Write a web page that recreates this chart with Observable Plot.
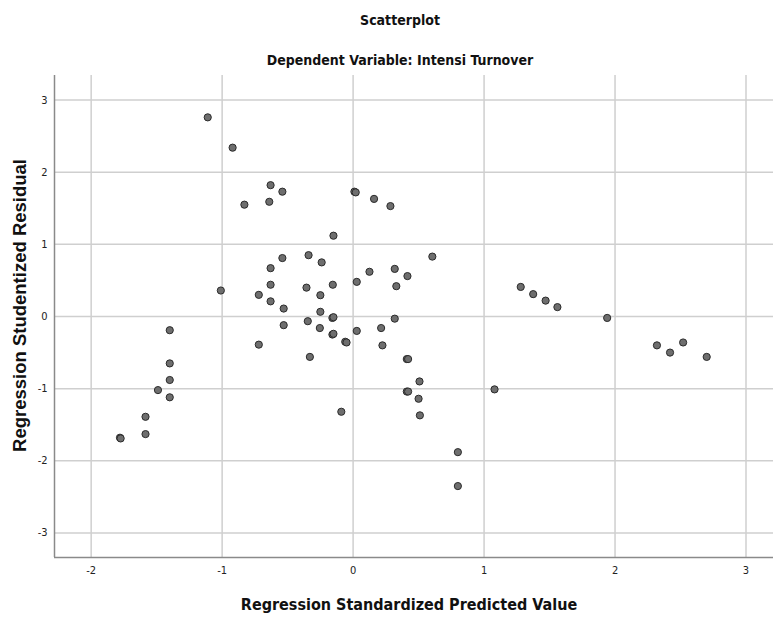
<!DOCTYPE html>
<html>
<head>
<meta charset="utf-8">
<script src="https://cdn.jsdelivr.net/npm/d3@7"></script>
<script src="https://cdn.jsdelivr.net/npm/@observablehq/plot@0.6"></script>
<style>
  html, body { margin: 0; padding: 0; background: #fff; }
  #chart { width: 773px; height: 621px; }
</style>
</head>
<body>
<div id="chart"></div>
<script>
// Regression Standardized Predicted Value (x) and Studentized Residual (y)
const predicted = [
  -1.11, -0.92, -0.63, -0.54, -0.83, -0.64, 0.01, 0.02, 0.16, 0.285,
  -0.15, 0.605, -0.54, -0.63, -0.34, -0.24, 0.125, 0.318, 0.415, 0.028,
  0.33, -1.01, -0.63, -0.72, -0.356, -0.155, -0.25, -0.63, -0.53, -0.25,
  -0.158, -0.15, -0.53, -0.346, -0.254, -0.158, -0.15, 0.028, -0.06, -0.05,
  0.214, 0.224, 0.318, -0.72, -0.33, -0.09, 0.41, 0.42, 0.507, 0.41,
  0.42, 0.50, 0.51, 1.08, 0.80, 0.80, 1.28, 1.375, 1.47, 1.56,
  1.94, 2.32, 2.42, 2.52, 2.70, -1.40, -1.40, -1.40, -1.49, -1.40,
  -1.585, -1.585, -1.78, -1.775
];
const residual = [
  2.76, 2.34, 1.82, 1.73, 1.55, 1.59, 1.73, 1.72, 1.63, 1.53,
  1.12, 0.83, 0.81, 0.67, 0.85, 0.75, 0.62, 0.66, 0.56, 0.48,
  0.42, 0.36, 0.44, 0.30, 0.40, 0.44, 0.295, 0.21, 0.11, 0.065,
  -0.02, -0.01, -0.12, -0.065, -0.16, -0.25, -0.24, -0.20, -0.35, -0.36,
  -0.16, -0.40, -0.03, -0.39, -0.56, -1.32, -0.59, -0.59, -0.90, -1.04,
  -1.04, -1.14, -1.37, -1.01, -1.88, -2.35, 0.41, 0.31, 0.22, 0.13,
  -0.02, -0.40, -0.50, -0.36, -0.56, -0.19, -0.65, -0.88, -1.02, -1.12,
  -1.39, -1.63, -1.68, -1.69
];
const xTicks = [-2, -1, 0, 1, 2, 3];
const yTicks = [-3, -2, -1, 0, 1, 2, 3];
const xDomain = [-2.28, 3.21];
const yDomain = [-3.34, 3.34];
const titleText = "Scatterplot";
const subtitleText = "Dependent Variable: Intensi Turnover";
const xLabel = "Regression Standardized Predicted Value";
const yLabel = "Regression Studentized Residual";

const points = predicted.map((x, i) => ({x, y: residual[i]}));
const narrow = "'Liberation Sans Narrow', 'Arial Narrow', 'DejaVu Sans Condensed', sans-serif";
const fmt = d => String(d);

const chart = Plot.plot({
  width: 773,
  height: 621,
  marginLeft: 54,
  marginRight: 0,
  marginTop: 75,
  marginBottom: 64,
  style: {background: "#fff", fontFamily: narrow},
  x: {domain: xDomain, label: null},
  y: {domain: yDomain, label: null},
  marks: [
    Plot.gridX(xTicks, {stroke: "#cfcfcf", strokeOpacity: 1, strokeWidth: 1.5}),
    Plot.gridY(yTicks, {stroke: "#cfcfcf", strokeOpacity: 1, strokeWidth: 1.5}),
    Plot.ruleX([xDomain[0]], {stroke: "#8a8a8a", strokeWidth: 1.5}),
    Plot.ruleY([yDomain[0]], {stroke: "#8a8a8a", strokeWidth: 1.5}),
    Plot.axisX(xTicks, {tickSize: 0, tickPadding: 9, fontSize: 11, fill: "#222", label: null, tickFormat: fmt}),
    Plot.axisY(yTicks, {tickSize: 0, tickPadding: 7, fontSize: 11, fill: "#222", label: null, tickFormat: fmt}),
    Plot.dot(points, {x: "x", y: "y", r: 3.6, fill: "#6e6e6e", stroke: "#2b2b2b", strokeWidth: 1}),
    Plot.text([titleText], {frameAnchor: "top", lineAnchor: "middle", dx: -14, dy: -55, fontSize: 14, fontWeight: "bold", fill: "#111", fontFamily: narrow}),
    Plot.text([subtitleText], {frameAnchor: "top", lineAnchor: "middle", dx: -14, dy: -15, fontSize: 14, fontWeight: "bold", fill: "#111", fontFamily: narrow}),
    Plot.text([xLabel], {frameAnchor: "bottom", lineAnchor: "middle", dx: -5, dy: 47, fontSize: 16, fontWeight: "bold", fill: "#111", fontFamily: narrow}),
    Plot.text([yLabel], {frameAnchor: "left", textAnchor: "middle", lineAnchor: "middle", dx: -34, dy: -11, rotate: -90, fontSize: 18.5, fontWeight: "bold", fill: "#111", fontFamily: "'Liberation Sans', Arial, sans-serif"})
  ]
});
document.getElementById("chart").appendChild(chart);
</script>
</body>
</html>
